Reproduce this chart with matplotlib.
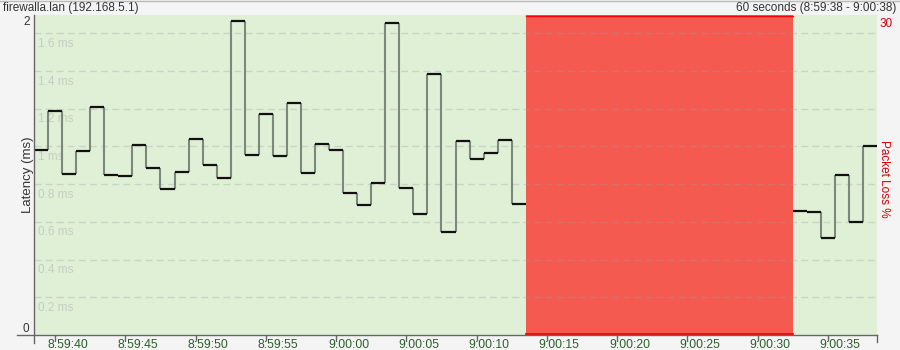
import numpy as np
import matplotlib
matplotlib.use("Agg")
import matplotlib.pyplot as plt
from matplotlib.lines import Line2D
from matplotlib.ticker import MultipleLocator, FuncFormatter
from matplotlib.transforms import blended_transform_factory, ScaledTranslation

plt.rcParams["font.family"] = ["Liberation Sans", "DejaVu Sans"]

# texte
host = "firewalla.lan (192.168.5.1)"
window = "60 seconds (8:59:38 - 9:00:38)"
start = "8:59:39"  # premier échantillon, 1 par seconde

# latence (ms) par seconde, nan = paquet perdu
latency_ms = [0.982, 1.186, 0.855, 0.977, 1.207, 0.850, 0.844, 1.005, 0.887, 0.772,
              0.867, 1.037, 0.903, 0.834, 1.664, 0.956, 1.170, 0.950, 1.228, 0.860,
              1.011, 0.979, 0.754, 0.690, 0.807, 1.653, 0.780, 0.642, 1.386, 0.547,
              1.030, 0.935, 0.963, 1.035, 0.696] + [np.nan] * 19 + \
             [0.658, 0.653, 0.517, 0.850, 0.600, 1.004]
loss_pct = [0] * 35 + [100] * 19 + [0] * 6
grid_ms = [0.2, 0.4, 0.6, 0.8, 1.0, 1.2, 1.4, 1.6]


def to_sec(s):
    h, m, sec = map(int, s.split(":"))
    return h * 3600 + m * 60 + sec


def fmt_time(x, pos=None):
    x = int(round(x))
    return f"{x // 3600}:{(x % 3600) // 60:02d}:{x % 60:02d}"


t0 = to_sec(start)
lat = np.array(latency_ms, dtype=float)
loss = np.array(loss_pct)
t = t0 + np.arange(len(lat))

W, H = 900, 350
fig = plt.figure(figsize=(9, 3.5), dpi=100, facecolor="#f4f4f4")
ax = fig.add_axes([34 / W, 15 / H, 843 / W, 320 / H])
ax.set_facecolor("#e0f0d6")
ax.set_xlim(t0 - 0.5, t0 + len(lat) - 0.5)
ax.set_ylim(0, 1.697)

# zones de perte
red = "#f55a50"
lost = loss > 0
i = 0
while i < len(lost):
    if lost[i]:
        j = i
        while j + 1 < len(lost) and lost[j + 1]:
            j += 1
        a, b = t[i] - 0.5, t[j] + 0.5
        ax.axvspan(a, b, color=red, lw=0, zorder=1)
        tr = ax.get_xaxis_transform()
        ax.plot([a, b], [0.002, 0.002], transform=tr, color="#ff0000", lw=1.3, zorder=2, clip_on=False)
        ax.plot([a, b], [0.998, 0.998], transform=tr, color="#ff0000", lw=1.0, zorder=2, clip_on=False)
        i = j + 1
    else:
        i += 1

# grille + étiquettes internes
for v in grid_ms:
    ax.axhline(v, color="#a0a0a0", alpha=0.35, lw=1, ls=(0, (5, 3)), zorder=2)
    ax.text(4 / 843, v - 0.056, f"{v:g} ms", transform=blended_transform_factory(ax.transAxes, ax.transData),
            ha="left", va="center", fontsize=8.5, color="#c5cdc0", zorder=2)

# courbe en escalier : verticales grises, paliers noirs
ok = ~np.isnan(lat)
pair = ok[:-1] & ok[1:]
ax.vlines(t[:-1][pair] + 0.5, np.minimum(lat[:-1], lat[1:])[pair], np.maximum(lat[:-1], lat[1:])[pair],
          color="#7d887d", lw=1.5, zorder=3)
ax.hlines(lat[ok], t[ok] - 0.5, t[ok] + 0.5, color="#111111", lw=1.6, zorder=4)

# axes
for s in ax.spines.values():
    s.set_visible(False)
ax.set_yticks([])
ax.xaxis.set_major_locator(MultipleLocator(5))
ax.xaxis.set_major_formatter(FuncFormatter(fmt_time))
ax.tick_params(axis="x", direction="out", length=4, width=1, color="#666666",
               labelcolor="#2e5e2e", labelsize=8.8, pad=-1)
shift = ScaledTranslation(-8 / 100, 0, fig.dpi_scale_trans)
for lbl in ax.get_xticklabels():
    lbl.set_ha("left")
    lbl.set_transform(lbl.get_transform() + shift)

ax_col = "#666666"
fig.add_artist(Line2D([33.5 / W, 33.5 / W], [1 - 15 / H, 1 - 343 / H], color=ax_col, lw=1))
fig.add_artist(Line2D([17 / W, 877 / W], [1 - 335 / H, 1 - 335 / H], color=ax_col, lw=1))
fig.add_artist(Line2D([876.5 / W, 876.5 / W], [1 - 335 / H, 1 - 342 / H], color=ax_col, lw=1))
fig.add_artist(Line2D([0, 1], [1 - 0.5 / H, 1 - 0.5 / H], color="#bbbbbb", lw=1))

txt = "#333333"
fig.text(3 / W, 1 - 8 / H, host, ha="left", va="center", fontsize=8.5, color=txt)
fig.text(896 / W, 1 - 8 / H, window, ha="right", va="center", fontsize=8.5, color=txt)
fig.text(29.5 / W, 1 - 22 / H, "2", ha="right", va="center", fontsize=8.5, color=txt)
fig.text(29.5 / W, 1 - 329 / H, "0", ha="right", va="center", fontsize=8.5, color=txt)
fig.text(28 / W, 1 - 175 / H, "Latency (ms)", rotation=90, ha="center", va="center", fontsize=9.5, color=txt)
fig.text(880 / W, 1 - 24 / H, "30", ha="left", va="center", fontsize=8.5, color="#d40000")
fig.text(884 / W, 1 - 179 / H, "Packet Loss %", rotation=-90, ha="center", va="center",
         fontsize=8.5, color="#d40000")

fig.savefig("out.png", dpi=100, facecolor=fig.get_facecolor())
